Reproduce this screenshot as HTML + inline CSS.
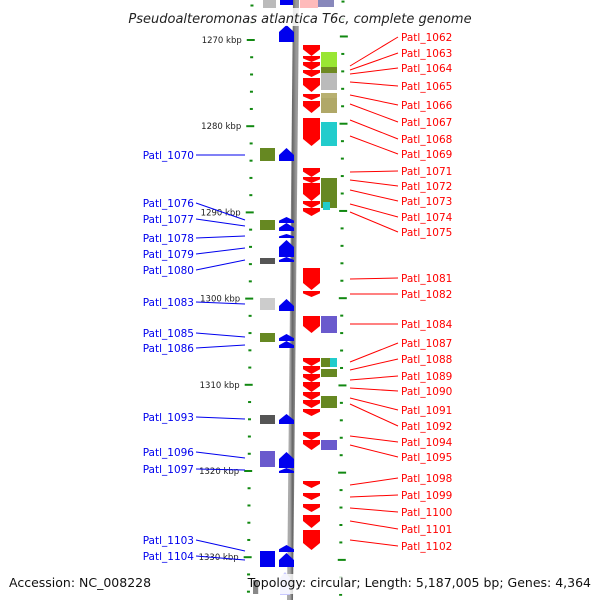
<!DOCTYPE html>
<html><head><meta charset="utf-8"><style>
html,body{margin:0;padding:0;background:#fff;}
svg{display:block;font-family:"DejaVu Sans","Liberation Sans",sans-serif;}
</style></head><body>
<svg id="map" width="600" height="600" viewBox="0 0 600 600" xmlns="http://www.w3.org/2000/svg">
<defs>
<linearGradient id="bb" x1="0" x2="1"><stop offset="0" stop-color="#aaa"/><stop offset="0.4" stop-color="#666"/><stop offset="1" stop-color="#999"/></linearGradient>
</defs>
<g id="ticks"></g>
<line x1="296" y1="0" x2="290" y2="600" stroke="url(#bb)" stroke-width="6"/>
<g id="genes"></g>
<g id="labels"></g>
<rect x="118" y="8" width="364" height="18" fill="#fff" fill-opacity="0.85"/>
<text x="300" y="23" text-anchor="middle" font-size="13" font-style="italic" fill="#222">Pseudoalteromonas atlantica T6c, complete genome</text>
<rect x="4" y="574" width="142" height="20" fill="#fff"/>
<text x="9" y="587" font-size="12.5" fill="#111">Accession: NC_008228</text>
<rect x="258" y="574" width="338" height="20" fill="#fff" fill-opacity="0.8"/>
<text x="591" y="587" text-anchor="end" font-size="12.5" fill="#111">Topology: circular; Length: 5,187,005 bp; Genes: 4,364</text>
</svg>
<script>
// scale ticks (kbp)
const majorKbp = [1270,1280,1290,1300,1310,1320,1330];
const tickLabels = ["1270 kbp","1280 kbp","1290 kbp","1300 kbp","1310 kbp","1320 kbp","1330 kbp"];
// forward (red) arrows: [startY, endY]
const fwdArrows = [[45,56],[56,62],[62,70],[70,77],[78,92],[94,100],[101,113],[118,146],[168,177],[177,183],[183,201],[201,208],[208,216],[268,290],[291,297],[316,333],[358,366],[366,374],[374,382],[382,392],[392,400],[400,408],[409,416],[432,440],[440,450],[481,488],[493,500],[504,512],[515,528],[530,550]];
// forward-side boxes: [startY, endY, color]
const fwdBoxes = [[52,67,"#99e633"],[67,73,"#6f8a22"],[73,90,"#bbbbbb"],[93,98,"#b8b070"],[98,113,"#b0a868"],[122,146,"#22cccc"],[178,208,"#668822"],[316,333,"#6a5acd"],[358,367,"#668822"],[369,377,"#668822"],[396,408,"#668822"],[440,450,"#6a5acd"]];
// reverse (blue) arrows: [startY, endY]
const revArrows = [[25,42],[148,161],[217,223],[223,231],[234,238],[240,257],[257,262],[299,311],[334,341],[341,348],[414,424],[452,468],[468,473],[545,552],[553,567]];
// reverse-side boxes
const revBoxes = [[148,161,"#668822"],[220,230,"#668822"],[258,264,"#555555"],[298,310,"#cccccc"],[333,342,"#668822"],[415,424,"#555555"],[451,467,"#6a5acd"],[551,567,"#0000ee"]];
// labels: [name, labelY, geneY]
const fwdLabels = [["Patl_1062",37,66],["Patl_1063",53,70],["Patl_1064",68,74],["Patl_1065",86,82],["Patl_1066",105,95],["Patl_1067",122,104],["Patl_1068",139,120],["Patl_1069",154,136],["Patl_1071",171,172],["Patl_1072",186,180],["Patl_1073",201,190],["Patl_1074",217,204],["Patl_1075",232,212],["Patl_1081",278,279],["Patl_1082",294,294],["Patl_1084",324,324],["Patl_1087",343,362],["Patl_1088",359,370],["Patl_1089",376,380],["Patl_1090",391,388],["Patl_1091",410,398],["Patl_1092",426,404],["Patl_1094",442,436],["Patl_1095",457,445],["Patl_1098",478,485],["Patl_1099",495,497],["Patl_1100",512,508],["Patl_1101",529,521],["Patl_1102",546,540]];
const revLabels = [["Patl_1070",155,155],["Patl_1076",203,220],["Patl_1077",219,226],["Patl_1078",238,236],["Patl_1079",254,248],["Patl_1080",270,260],["Patl_1083",302,304],["Patl_1085",333,337],["Patl_1086",348,345],["Patl_1093",417,419],["Patl_1096",452,458],["Patl_1097",469,470],["Patl_1103",540,551],["Patl_1104",556,560]];

const NS="http://www.w3.org/2000/svg";
function el(tag,attrs,parent){const e=document.createElementNS(NS,tag);for(const k in attrs)e.setAttribute(k,attrs[k]);parent.appendChild(e);return e;}
function yOf(kbp){return 40+(kbp-1270)*8.62;}
function leftX(y){return 252-y*0.006;}
function rightX(y){return 343-y*0.004;}
const T=document.getElementById('ticks');
for(let k=1266;k<=1336;k+=2){
  const y=yOf(k), major=(k%10===0);
  const lx=leftX(y);
  const t=el('line',{x1:major?lx-5:lx-1.5,x2:major?lx+3:lx+1.5,y1:y,y2:y,stroke:'#118811','stroke-width':2},T);
  
  
  const ry=y-4+y*0.012, rx=rightX(ry);
  const t2=el('line',{x1:major?rx-3:rx-1.5,x2:major?rx+5:rx+1.5,y1:ry,y2:ry,stroke:'#118811','stroke-width':2},T);
  
  
}
majorKbp.forEach((k,i)=>{
  const y=yOf(k);
  const tx=el('text',{x:leftX(y)-10,y:y+3,'text-anchor':'end','font-size':'8.5',fill:'#222'},T);
  tx.textContent=tickLabels[i];
  
  
});
const G=document.getElementById('genes');
function downArrow(x,w,a,b,col){
  const h=Math.min(7,(b-a)*0.6);
  return el('polygon',{points:`${x},${a} ${x+w},${a} ${x+w},${b-h} ${x+w/2},${b} ${x},${b-h}`,fill:col},G);
}
function upArrow(x,w,a,b,col){
  const h=Math.min(7,(b-a)*0.6);
  return el('polygon',{points:`${x+w/2},${a} ${x+w},${a+h} ${x+w},${b} ${x},${b} ${x},${a+h}`,fill:col},G);
}
// partially visible top/bottom features
const e1=el('rect',{x:263,y:0,width:13,height:8,fill:'#bbbbbb'},G);


const e2=el('rect',{x:280,y:0,width:13,height:5,fill:'#0000ee'},G);


const e3=el('rect',{x:300,y:0,width:18,height:8,fill:'#ffbbbb'},G);


const e4=el('rect',{x:318,y:0,width:16,height:7,fill:'#8888bb'},G);


const e5=el('polygon',{points:'280,578 285,572 290,578 290,595 280,595',fill:'#c8c8ff'},G);


const e6=el('rect',{x:253,y:580,width:6,height:14,fill:'#888888'},G);


fwdArrows.forEach(d=>{
  const p=downArrow(303,17,d[0],d[1],'#ff0000');
  
  
});
fwdBoxes.forEach(d=>{
  const r=el('rect',{x:321,y:d[0],width:16,height:d[1]-d[0],fill:d[2]},G);
  
  
});
el('rect',{x:323,y:202,width:7,height:8,fill:'#22cccc'},G);
el('rect',{x:330,y:358,width:7,height:9,fill:'#22cccc'},G);
revArrows.forEach(d=>{
  const p=upArrow(279,15,d[0],d[1],'#0000ee');
  
  
});
revBoxes.forEach(d=>{
  const r=el('rect',{x:260,y:d[0],width:15,height:d[1]-d[0],fill:d[2]},G);
  
  
});
const L=document.getElementById('labels');
fwdLabels.forEach(d=>{
  const ln=el('line',{x1:350,y1:d[2],x2:398,y2:d[1],stroke:'#ff0000','stroke-width':1},L);
  
  
  const t=el('text',{x:401,y:d[1]+4,'font-size':'10.5',fill:'#ff0000'},L);
  t.textContent=d[0];
  
  
});
revLabels.forEach(d=>{
  const ln=el('line',{x1:196,y1:d[1],x2:245,y2:d[2],stroke:'#0000ee','stroke-width':1},L);
  
  
  const t=el('text',{x:194,y:d[1]+4,'text-anchor':'end','font-size':'10.5',fill:'#0000ee'},L);
  t.textContent=d[0];
  
  
});
</script>
</body></html>
